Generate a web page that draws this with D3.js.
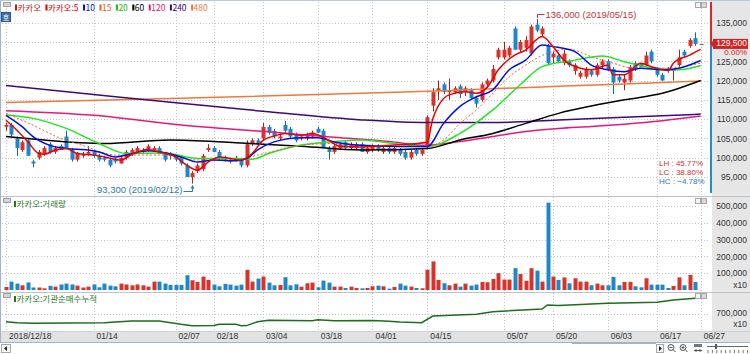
<!DOCTYPE html>
<html><head><meta charset="utf-8">
<script src="https://cdn.jsdelivr.net/npm/d3@7"></script>
<style>
html,body{margin:0;padding:0;background:#fff;}
svg{display:block;}
</style></head><body>
<svg id="c" width="750" height="354"></svg>
<script>
// ---------------- DATA ----------------
const dates = ("2018/12/18 2018/12/19 2018/12/20 2018/12/21 2018/12/24 2018/12/26 2018/12/27 2018/12/28 " +
"2019/01/02 2019/01/03 2019/01/04 2019/01/07 2019/01/08 2019/01/09 2019/01/10 2019/01/11 2019/01/14 2019/01/15 2019/01/16 2019/01/17 2019/01/18 " +
"2019/01/21 2019/01/22 2019/01/23 2019/01/24 2019/01/25 2019/01/28 2019/01/29 2019/01/30 2019/01/31 " +
"2019/02/01 2019/02/07 2019/02/08 2019/02/11 2019/02/12 2019/02/13 2019/02/14 2019/02/15 2019/02/18 2019/02/19 2019/02/20 2019/02/21 2019/02/22 2019/02/25 2019/02/26 2019/02/27 2019/02/28 " +
"2019/03/04 2019/03/05 2019/03/06 2019/03/07 2019/03/08 2019/03/11 2019/03/12 2019/03/13 2019/03/14 2019/03/15 2019/03/18 2019/03/19 2019/03/20 2019/03/21 2019/03/22 2019/03/25 2019/03/26 2019/03/27 2019/03/28 2019/03/29 " +
"2019/04/01 2019/04/02 2019/04/03 2019/04/04 2019/04/05 2019/04/08 2019/04/09 2019/04/10 2019/04/11 2019/04/12 2019/04/15 2019/04/16 2019/04/17 2019/04/18 2019/04/19 2019/04/22 2019/04/23 2019/04/24 2019/04/25 2019/04/26 2019/04/29 2019/04/30 " +
"2019/05/02 2019/05/03 2019/05/07 2019/05/08 2019/05/09 2019/05/10 2019/05/13 2019/05/14 2019/05/15 2019/05/16 2019/05/17 2019/05/20 2019/05/21 2019/05/22 2019/05/23 2019/05/24 2019/05/27 2019/05/28 2019/05/29 2019/05/30 2019/05/31 " +
"2019/06/03 2019/06/04 2019/06/05 2019/06/07 2019/06/10 2019/06/11 2019/06/12 2019/06/13 2019/06/14 2019/06/17 2019/06/18 2019/06/19 2019/06/20 2019/06/21 2019/06/24 2019/06/25 2019/06/26 2019/06/27").split(" ");

const open = [108000,108500,105000,102000,104500,99000,100000,101000,103500,101500,103000,105500,102000,99500,100500,101000,101500,100500,100000,99500,
99500,98500,100000,101000,101500,101500,102000,102000,102500,101500,101000,100500,100000,98000,95000,96500,97000,102000,102500,101500,
100000,99500,100000,99500,98000,103500,104500,105000,108000,107000,105000,108500,107500,106000,105000,105000,105500,107500,107000,102500,
101500,102500,104000,102500,102500,103500,101500,102000,103000,101500,102500,101500,102000,101500,100000,102000,101000,103000,113500,117500,
119000,117000,117000,118500,117000,117500,115500,115000,119000,120000,126000,126000,126500,133500,128000,128500,127000,134500,132000,129000,
126000,126500,124500,125000,122500,121000,121000,122500,121500,124000,125000,123000,121000,119500,120000,124500,124500,124000,127500,123000,
121500,123000,122500,124000,127500,129000,131000,129500];
const high = [109000,109000,105500,104500,105000,99500,102000,103000,104000,103000,103500,107000,102500,101500,101500,103000,102000,101000,100500,100000,
100000,100500,102000,102500,103000,102500,103500,103000,103000,101500,101500,101000,100500,98500,96500,98500,101000,103500,103000,102000,
100500,100000,100500,100000,104500,105000,105000,109000,108500,107500,106000,109500,108000,106500,106000,106500,107000,108000,107500,103000,
103500,104000,104500,104000,104000,104000,103000,103500,103500,103000,103000,103000,102500,102000,102000,102500,102500,111000,118000,120000,
119500,120500,118500,119000,118500,118000,116000,119500,120500,124000,128500,130000,129000,134000,130500,131500,134500,136000,134000,129500,
127500,127000,128000,125500,124500,122500,123500,123000,124500,125500,125500,123500,121500,121500,124000,125000,124500,127500,128000,123500,
122000,123500,123000,128000,128000,131000,132500,129500];
const low = [107000,105500,100500,101500,100500,97500,99500,100500,101000,101000,102000,102500,99000,99000,100000,100500,100000,99000,99000,97500,
98500,98500,99500,100500,101000,101000,101500,101500,101000,99000,99500,99000,98000,95000,93300,96000,96500,101500,101500,99500,
99000,98500,99000,97500,97500,103000,103000,104500,106000,105000,104500,106500,105000,104000,104500,104500,105000,106500,102500,99500,
101000,102000,102000,102000,102000,101500,101000,101500,101500,101000,101000,101000,100500,99500,99500,100500,100500,102500,112000,115000,
116500,115000,116500,115500,116000,115000,113000,114500,118500,119500,125500,125500,126000,128000,127500,127500,126500,132500,131500,124000,
124500,124500,124000,123500,121500,120500,120500,121000,121000,123000,122500,116500,119500,117500,119500,122500,123500,123500,124500,121000,
120000,122000,120000,123500,126000,128500,129000,129500];
const close = [108500,106000,102500,104000,100500,98500,101500,102500,101500,102500,102000,102500,99500,101000,101000,101500,100500,99500,99500,98000,
99000,100000,101500,102000,102500,102000,103000,102500,101000,99500,100500,99500,98500,95000,96000,98000,100500,102500,101500,100000,
99500,99000,99500,98000,103500,104500,103500,108000,106500,105500,105500,107000,105500,104500,105500,106000,106500,106500,102500,101500,
103000,103500,102500,103500,103500,101500,102500,103000,102000,102500,101500,102500,101000,100000,101500,101000,102000,110500,117000,118000,
117000,117500,118000,116500,118000,115500,114000,119000,120000,123000,128000,128000,128500,128000,130000,130500,134000,133000,133500,124500,
127000,125000,127000,124000,124000,122000,123000,121500,124000,125000,123000,119500,120000,120500,123500,123000,123500,126500,125000,121500,
120000,122500,123000,126000,126500,130500,129500,129500];
const volume = [18000,50000,38000,28000,45000,15000,15000,10000,25000,20000,33000,38000,33000,26000,15000,20000,33000,16000,38000,26000,
22000,38000,33000,28000,33000,28000,20000,50000,50000,38000,30000,30000,30000,88000,58000,48000,80000,60000,32000,22000,
36000,32000,26000,32000,120000,50000,68000,80000,44000,28000,30000,76000,28000,34000,20000,40000,44000,16000,56000,44000,
20000,20000,12000,20000,12000,10000,12000,22000,26000,22000,8000,18000,38000,26000,20000,12000,10000,120000,170000,60000,
40000,28000,38000,20000,38000,26000,32000,48000,46000,66000,100000,62000,62000,130000,95000,55000,130000,115000,50000,520000,
80000,60000,75000,40000,70000,50000,50000,28000,38000,28000,28000,78000,28000,48000,48000,22000,16000,70000,32000,32000,
32000,12000,24000,75000,28000,90000,48000,0];

// moving averages: [day index, value]
const ma5 = [[0,109700],[2,107100],[4,104100],[6,101100],[7,100900],[9,102000],[11,102400],[13,101100],[16,100700],[18,100200],[21,99400],[23,100900],[26,102100],[28,101500],[31,100200],[33,98100],[35,96800],[37,98900],[39,100200],[41,99800],[43,99400],[45,101100],[47,104500],[49,105600],[51,106300],[54,105800],[56,106300],[59,104500],[61,103000],[65,102800],[71,103300],[77,104000],[78,110000],[81,116300],[84,117100],[86,116700],[88,118300],[90,122800],[93,126600],[95,127900],[98,131400],[100,128800],[102,125300],[105,123200],[107,122800],[110,124000],[111,121500],[113,121500],[116,124500],[118,123600],[121,122600],[122,124500],[125,126600],[127,128100]];
const ma10 = [[0,111000],[3,108000],[5,105400],[8,103200],[11,102400],[15,102000],[17,101500],[20,100200],[22,100700],[26,101800],[29,101300],[32,100200],[35,98900],[38,99400],[42,99200],[44,99800],[46,102000],[49,104100],[54,105200],[57,105200],[60,104100],[65,103200],[71,102900],[77,102900],[80,108900],[83,113300],[86,115800],[89,117600],[92,122800],[95,125300],[98,129200],[100,128800],[104,127500],[107,124000],[110,122800],[113,122300],[116,123200],[120,122800],[123,123200],[127,125200]];
const ma15 = [[0,111500],[5,108400],[10,105000],[14,103200],[20,100700],[29,100700],[35,99400],[42,99400],[46,100700],[54,103200],[60,103700],[65,103200],[77,102900],[80,104600],[83,108900],[86,112400],[89,116700],[92,121000],[95,124000],[99,127100],[103,128100],[107,126200],[111,124500],[115,123200],[120,123200],[127,124500]];
const ma20 = [[0,111100],[5,110200],[11,107600],[17,103700],[22,101100],[29,101200],[35,99800],[42,99800],[45,99600],[48,101100],[54,103300],[60,104200],[65,104600],[71,103700],[77,102900],[83,106300],[89,112400],[94,118900],[98,123600],[104,125300],[109,126400],[113,124900],[119,123200],[123,122800],[127,123900]];
const ma60 = [[0,105500],[6,104700],[18,103700],[30,104600],[42,103900],[54,103000],[65,102000],[77,102400],[83,104600],[89,106300],[95,108900],[101,111500],[107,113400],[113,115000],[120,116700],[127,120000]];
const ma120 = [[0,112200],[16,111000],[32,108500],[48,106700],[60,105300],[70,104200],[77,103200],[83,104200],[89,105500],[95,106800],[101,107600],[107,108100],[113,108700],[120,109600],[127,110800]];
const ma240 = [[0,118700],[16,116400],[32,114100],[48,111900],[65,109800],[77,109100],[89,109100],[101,109800],[113,110500],[127,111300]];
const ma480 = [[0,114300],[32,115400],[65,116700],[77,117200],[89,117900],[101,118500],[113,119100],[127,119900]];

// institutional net buying, cumulative (x10)
const cumNet = [[0,623000],[2,613000],[5,607000],[18,613000],[20,620000],[23,630000],[28,630000],[32,597000],[34,583000],[38,586000],[39,597000],[42,597000],[43,583000],[44,584000],[46,623000],[48,637000],[56,633000],[57,643000],[60,633000],[67,635000],[70,628000],[72,621000],[76,613000],[78,680000],[86,697000],[89,723000],[98,750000],[99,790000],[101,785000],[110,807000],[119,817000],[122,840000],[126,857000]];

const tickDates = ["2018/12/18","2019/01/14","2019/02/07","2019/02/18","2019/03/04","2019/03/18","2019/04/01","2019/04/15","2019/05/07","2019/05/20","2019/06/03","2019/06/17","2019/06/27"];
const tickLabels = ["2018/12/18","01/14","02/07","02/18","03/04","03/18","04/01","04/15","05/07","05/20","06/03","06/17","06/27"];
const priceTicks = [95000,100000,105000,110000,115000,120000,125000,130000,135000];
const volTicks = [100000,200000,300000,400000,500000];
const cumTicks = [700000];

const legendLabels = ["카카오","카카오:5","10","15","20","60","120","240","480"];
const legendColors = ["#c01818","#e00000","#0010e0","#f05a28","#10c010","#000000","#e6197a","#3c0a78","#f0783c"];

// ---------------- DRAW ----------------
const svg = d3.select("#c");
const SANS = "'Liberation Sans',Arial,sans-serif";
const KR = "'Noto Sans CJK KR','Noto Sans CJK SC',sans-serif";
function txt(sel, size){ return sel.style("font-family", SANS).style("font-size", size+"px"); }

const x = d3.scalePoint().domain(dates).range([6, 700.7]);
const xi = i => x(dates[i]);
const yP = d3.scaleLinear().domain([95000,135000]).range([177,22.7]);
const yV = d3.scaleLinear().domain([0,500000]).range([290,206]);
const yC = d3.scaleLinear().domain([700000,800000]).range([314,304]);

const UP = "#d8332b", UPD = "#b01e16", DN = "#1f87c7", DND = "#16679e";

// backgrounds
svg.append("rect").attr("width",750).attr("height",354).attr("fill","#ffffff");
svg.append("rect").attr("x",712).attr("y",0).attr("width",38).attr("height",331).attr("fill","#e6e6e6");
svg.append("rect").attr("x",0).attr("y",331).attr("width",750).attr("height",11.5).attr("fill","#e2e2e2");

const defs = svg.append("defs");
defs.append("clipPath").attr("id","cp1").append("rect").attr("x",2).attr("y",2).attr("width",707).attr("height",194);
defs.append("clipPath").attr("id","cp2").append("rect").attr("x",2).attr("y",198).attr("width",707).attr("height",93);
defs.append("clipPath").attr("id","cp3").append("rect").attr("x",2).attr("y",293).attr("width",707).attr("height",38);

// gridlines
const grid = svg.append("g").attr("stroke","#c4c4c4").attr("stroke-dasharray","1,2").attr("stroke-width",1);
tickDates.forEach(d => {
  const gx = Math.round(x(d))+0.5;
  grid.append("line").attr("x1",gx).attr("x2",gx).attr("y1",2).attr("y2",331);
});
priceTicks.forEach(v => { const gy=Math.round(yP(v))+0.5; grid.append("line").attr("x1",2).attr("x2",709).attr("y1",gy).attr("y2",gy); });
volTicks.forEach(v => { const gy=Math.round(yV(v))+0.5; grid.append("line").attr("x1",2).attr("x2",709).attr("y1",gy).attr("y2",gy); });
cumTicks.forEach(v => { const gy=Math.round(yC(v))+0.5; grid.append("line").attr("x1",2).attr("x2",709).attr("y1",gy).attr("y2",gy); });

// panel separators & borders
const sep = svg.append("g");
[196.5, 292.5].forEach(yy => sep.append("line").attr("x1",0).attr("x2",750).attr("y1",yy).attr("y2",yy).attr("stroke","#bcc4cc"));
sep.append("line").attr("x1",0).attr("x2",750).attr("y1",331.5).attr("y2",331.5).attr("stroke","#c9d2da");
sep.append("line").attr("x1",0).attr("x2",750).attr("y1",342.5).attr("y2",342.5).attr("stroke","#9fb4c9");
sep.append("line").attr("x1",0.5).attr("x2",0.5).attr("y1",0).attr("y2",343).attr("stroke","#9fb4c9");
sep.append("line").attr("x1",0).attr("x2",750).attr("y1",0.5).attr("y2",0.5).attr("stroke","#b9c9d9");

// ----- price panel -----
const p1 = svg.append("g").attr("clip-path","url(#cp1)");
const lineGen = yScale => d3.line().x(d => xi(d[0])).y(d => yScale(d[1])).curve(d3.curveMonotoneX);

const candles = p1.append("g");
dates.forEach((d,i) => {
  const up = close[i] >= open[i];
  const c = Math.round(xi(i));
  candles.append("line").attr("x1",c+0.5).attr("x2",c+0.5)
    .attr("y1",yP(high[i])).attr("y2",yP(low[i])).attr("stroke", up?UPD:DND).attr("stroke-width",1);
  const yt = yP(Math.max(open[i],close[i])), yb = yP(Math.min(open[i],close[i]));
  candles.append("rect").attr("x",c-1.5).attr("width",4)
    .attr("y",yt).attr("height",Math.max(1,yb-yt)).attr("fill", up?UP:DN);
});

const maStyles = [
  [ma480,"#f0783c",1.5,null],[ma240,"#3c0a78",1.5,null],[ma120,"#e6197a",1.5,null],
  [ma60,"#000000",1.5,null],[ma20,"#22e622",1.5,null],[ma15,"#f06030",1,"2,2"],
  [ma10,"#0010e0",1.5,null],[ma5,"#e80000",1.5,null]
];
maStyles.forEach(([data,col,w,dash]) => {
  p1.append("path").datum(data).attr("d", lineGen(yP)).attr("fill","none")
    .attr("stroke",col).attr("stroke-width",w).attr("stroke-dasharray",dash);
});

// high / low annotations
const hi = d3.max(high), lo = d3.min(low);
const iHi = high.indexOf(hi), iLo = low.indexOf(lo);
const last = close[close.length-1], prev = close[close.length-2];
const fmt = d3.format(",");
const xh = Math.round(xi(iHi))+0.5;
svg.append("path").attr("d",`M${xh},${yP(hi)-1}V14.5H${xh+7}`).attr("fill","none").attr("stroke","#c8323c");
txt(svg.append("text").attr("x",xh+8).attr("y",17.5).attr("fill","#c8323c")
  .text(`${fmt(hi)} (${dates[iHi]})`), 9.5);
const xl = Math.round(xi(iLo))+0.5;
svg.append("path").attr("d",`M${xl-9},191.5H${xl}V${yP(lo)+2}`).attr("fill","none").attr("stroke","#2a7ab8");
svg.append("path").attr("d",`M${xl-2},${yP(lo)+5}L${xl},${yP(lo)+1.5}L${xl+2},${yP(lo)+5}Z`).attr("fill","#2a7ab8");
txt(svg.append("text").attr("x",xl-10).attr("y",192.5).attr("text-anchor","end").attr("fill","#2a7ab8")
  .text(`${fmt(lo)} (${dates[iLo]})`), 9.5);

// LH / LC / HC
const pct = d3.format(".2f");
const stats = [["LH",(hi/lo-1)*100,"#d03030"],["LC",(last/lo-1)*100,"#d03030"],["HC",(last/hi-1)*100,"#2a7ab8"]];
stats.forEach(([k,v,col],j) => {
  txt(svg.append("text").attr("x",659).attr("y",166+j*8.8).attr("fill",col)
    .text(`${k} : ${pct(v)}%`), 8);
});

// price axis (labels hidden behind the current-price box are left out)
const axP = d3.axisRight(yP).tickValues(priceTicks.filter(v => Math.abs(yP(v)-yP(last)) > 7))
  .tickFormat(fmt).tickSize(0).tickPadding(0);
const gP = svg.append("g").attr("transform","translate(747,0)").call(axP);
gP.select(".domain").remove();
txt(gP.selectAll("text").attr("x",0).attr("text-anchor","end").attr("fill","#333"), 8.5);

// current-price range bar
svg.append("line").attr("x1",711).attr("x2",711).attr("y1",2).attr("y2",yP(last)).attr("stroke","#d42a2a").attr("stroke-width",2);
svg.append("line").attr("x1",711).attr("x2",711).attr("y1",yP(last)).attr("y2",193).attr("stroke","#2a8ac8").attr("stroke-width",2);
// current price box
svg.append("rect").attr("x",713).attr("y",yP(last)-5).attr("width",35).attr("height",10).attr("fill","#d42020");
svg.append("path").attr("d",`M710,${yP(last)}L713,${yP(last)-3}V${yP(last)+3}Z`).attr("fill","#d42020");
txt(svg.append("text").attr("x",747).attr("y",yP(last)+2.3).attr("text-anchor","end").attr("fill","#ffffff").text(fmt(last)), 8.5);
txt(svg.append("text").attr("x",747).attr("y",yP(last)+11.4).attr("text-anchor","end").attr("fill","#d42020")
  .text(`${pct((last/prev-1)*100)}%`), 8);

// ----- volume panel -----
const p2 = svg.append("g").attr("clip-path","url(#cp2)");
dates.forEach((d,i) => {
  if (!volume[i]) return;
  const up = close[i] >= open[i];
  const c = Math.round(xi(i));
  p2.append("rect").attr("x",c-1.5).attr("width",4).attr("y",yV(volume[i]))
    .attr("height",yV(0)-yV(volume[i])).attr("fill",up?UP:DN);
});
const axV = d3.axisRight(yV).tickValues(volTicks).tickFormat(fmt).tickSize(0).tickPadding(0);
const gV = svg.append("g").attr("transform","translate(747,0)").call(axV);
gV.select(".domain").remove();
txt(gV.selectAll("text").attr("x",0).attr("text-anchor","end").attr("fill","#333"), 8.5);
txt(svg.append("text").attr("x",747).attr("y",288).attr("text-anchor","end").attr("fill","#333").text("x10"), 8.5);

// ----- cumulative panel -----
const p3 = svg.append("g").attr("clip-path","url(#cp3)");
p3.append("path").datum(cumNet).attr("d", d3.line().x(d=>xi(d[0])).y(d=>yC(d[1]))).attr("fill","none")
  .attr("stroke","#1b6e1b").attr("stroke-width",1.5);
const axC = d3.axisRight(yC).tickValues(cumTicks).tickFormat(fmt).tickSize(0).tickPadding(0);
const gC = svg.append("g").attr("transform","translate(747,0)").call(axC);
gC.select(".domain").remove();
txt(gC.selectAll("text").attr("x",0).attr("text-anchor","end").attr("fill","#333").attr("dy","0.2em"), 8.5);
txt(svg.append("text").attr("x",747).attr("y",326.5).attr("text-anchor","end").attr("fill","#333").text("x10"), 8.5);

// ----- x axis -----
const axX = d3.axisBottom(x).tickValues(tickDates).tickFormat((d,i)=>tickLabels[i]).tickSize(0).tickPadding(0);
const gX = svg.append("g").attr("transform","translate(0,331)").call(axX);
gX.select(".domain").remove();
txt(gX.selectAll("text").attr("x",2.5).attr("y",2).attr("text-anchor","start").attr("fill","#333"), 8.5);

// ----- legends -----
function smallIcon(y0){
  svg.append("rect").attr("x",3.5).attr("y",y0+0.5).attr("width",7).attr("height",4).attr("fill","#d4d4d4").attr("stroke","#a0a0a0");
}
function panelBtns(y0){
  svg.append("rect").attr("x",695.5).attr("y",y0+0.5).attr("width",5).attr("height",5).attr("fill","#f4f4f4").attr("stroke","#a8a8a8");
  svg.append("rect").attr("x",701.5).attr("y",y0+0.5).attr("width",5).attr("height",5).attr("fill","#d8d8d8").attr("stroke","#a8a8a8");
}
smallIcon(2); smallIcon(198); smallIcon(293);
panelBtns(2); panelBtns(198); panelBtns(293);

let cx = 15;
legendLabels.forEach((lab,i) => {
  svg.append("rect").attr("x",cx).attr("y",4.5).attr("width",2).attr("height",6).attr("fill",legendColors[i]);
  const t = svg.append("text").attr("x",cx+2.5).attr("y",10.5).attr("fill",legendColors[i])
    .style("font-family",KR).style("font-size","8.5px").text(lab);
  cx = cx + 2.5 + t.node().getComputedTextLength() + 4.5;
});
// "호" box
svg.append("rect").attr("x",1.5).attr("y",12.5).attr("width",9).attr("height",9).attr("fill","#3d6ea8").attr("stroke","#2d5a90");
svg.append("text").attr("x",6).attr("y",19.7).attr("text-anchor","middle").attr("fill","#fff")
  .style("font-family",KR).style("font-size","7px").text("호");

[["카카오:거래량",198],["카카오:기관순매수누적",293]].forEach(([lab,y0]) => {
  svg.append("rect").attr("x",14).attr("y",y0+3).attr("width",2).attr("height",6).attr("fill","#1b7a1b");
  svg.append("text").attr("x",16.5).attr("y",y0+9).attr("fill","#2a7a2a")
    .style("font-family",KR).style("font-size","8.5px").text(lab);
});

// ----- bottom scroll row -----
const br = svg.append("g");
br.append("rect").attr("x",1.5).attr("y",344.5).attr("width",9).attr("height",8).attr("fill","#f6f6f6").attr("stroke","#a8a8a8");
br.append("path").attr("d","M4,348.5L7,346V351Z").attr("fill","#222");
br.append("line").attr("x1",572).attr("x2",656).attr("y1",343.5).attr("y2",343.5).attr("stroke","#b0b0b0");
br.append("rect").attr("x",656.5).attr("y",344.5).attr("width",7).attr("height",8).attr("fill","#f6f6f6").attr("stroke","#a8a8a8");
br.append("path").attr("d","M659,346L662,348.5L659,351Z").attr("fill","#222");
[671,683].forEach((cxm,k) => {
  br.append("circle").attr("cx",cxm).attr("cy",347.5).attr("r",3).attr("fill","none").attr("stroke","#555");
  br.append("line").attr("x1",cxm+2).attr("x2",cxm+4.5).attr("y1",349.5).attr("y2",352).attr("stroke","#555");
  br.append("line").attr("x1",cxm-1.5).attr("x2",cxm+1.5).attr("y1",347.5).attr("y2",347.5).attr("stroke","#555");
  if (k===1) br.append("line").attr("x1",cxm).attr("x2",cxm).attr("y1",346).attr("y2",349).attr("stroke","#555");
});
br.append("rect").attr("x",694).attr("y",344).attr("width",8).attr("height",3).attr("fill","#777");
br.append("path").attr("d","M694,350.5H702M696,349V352M700,349V352").attr("stroke","#555");
br.append("line").attr("x1",707).attr("x2",748).attr("y1",346.5).attr("y2",346.5).attr("stroke","#666");
br.append("rect").attr("x",715).attr("y",344).attr("width",2).attr("height",5).attr("fill","#555");
for (let k=0;k<10;k++) br.append("line").attr("x1",708+k*4.4).attr("x2",708+k*4.4).attr("y1",350).attr("y2",353).attr("stroke","#777");
</script></body></html>
